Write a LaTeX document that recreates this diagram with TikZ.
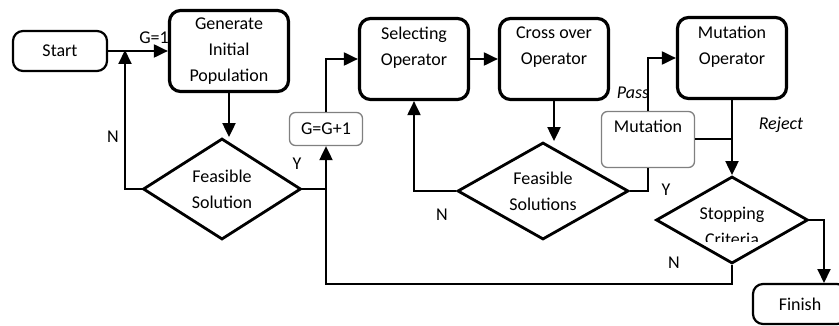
\documentclass[tikz,border=0pt]{standalone}
\usepackage{fontspec}
\setmainfont{Carlito}
\usetikzlibrary{arrows.meta,shapes.geometric}

\tikzset{
  termbox/.style={draw, rounded corners=10pt, line width=2.2pt, minimum width=94pt, minimum height=40pt},
  opbox/.style={draw, rounded corners=11pt, line width=3.2pt, align=center, minimum width=109pt, minimum height=81pt},
  countbox/.style={draw=gray, rounded corners=6pt, line width=1.3pt, align=center},
  decision/.style={draw, diamond, line width=2.8pt, align=center, inner sep=0pt},
  flow/.style={line width=2pt},
  arr/.style={flow, -{Triangle[length=14pt,width=13pt]}},
}

\begin{document}
\begin{tikzpicture}[x=1pt,y=-1pt,font=\fontsize{18}{26}\selectfont]
\useasboundingbox (0,0) rectangle (839,326);

% blocks
\node[termbox] (start) at (60,51) {Start};
\node[opbox, minimum width=119pt] (gen) at (229,51) {Generate\\Initial\\Population};
\node[decision, shape aspect=1.55, minimum width=158pt, minimum height=101pt] (fs1) at (222,189) {Feasible\\Solution};
\node[countbox, minimum width=73pt, minimum height=33pt] (gg) at (326,129) {G=G+1};
\node[opbox] (sel) at (414,59) {Selecting\\Operator\\~};
\node[opbox] (cross) at (554,59) {Cross over\\Operator\\~};
\node[decision, shape aspect=1.74, minimum width=171pt, minimum height=97pt] (fs2) at (543,191) {Feasible\\Solutions};
\node[countbox, minimum width=93pt, minimum height=56pt] (mut) at (648,139.5) {Mutation\\~};
\node[opbox] (mutop) at (732,58) {Mutation\\Operator\\~};
\node[decision, minimum width=152pt, minimum height=87pt] (stop) at (732,220) {};
\node[termbox] (finish) at (800,304) {Finish};

% text of the last test is cut at the bottom
\begin{scope}
  \clip (640,190) rectangle (820,242);
  \node[align=center] (stoplbl) at (732,226) {Stopping\\Criteria};
\end{scope}

% branch labels
\node (g1) at (154,38) {G=1};
\node (n1) at (113,137) {N};
\node (y1) at (297,164) {Y};
\node (n2) at (442,215) {N};
\node (y2) at (666,190) {Y};
\node (n3) at (674,263) {N};
\node (pass) at (633,93) {\itshape Pass};
\node (reject) at (781,125) {\itshape Reject};

% connectors
\coordinate (join1) at (125,51);
\coordinate (loop) at (326,284);
\coordinate (finin) at (824,283);

\draw[arr] (start) -- (gen);
\draw[arr, shorten >=-1pt] (fs1.west) -| (join1);
\draw[arr] (gen.south) -- (gen.south |- fs1.north);
\draw[arr] (stop.south) |- (loop) -- (gg.south);
\draw[flow] (fs1.east) -- (fs1.east -| loop);
\draw[arr] (gg.north) |- (sel.west);
\draw[arr] (sel) -- (cross);
\draw[arr] (cross.south) -- (cross.south |- fs2.north);
\draw[arr] (fs2.west) -| (sel.south);
\draw[flow] (fs2.east) -| (mut.south);
\draw[arr] (mut.north) |- (mutop.west);
\draw[arr] (mutop.south) -- (stop.north);
\draw[flow] (mut.east) -- (mut.east -| mutop.south);
\draw[arr] (stop.east) -| (finin);
\end{tikzpicture}
\end{document}
